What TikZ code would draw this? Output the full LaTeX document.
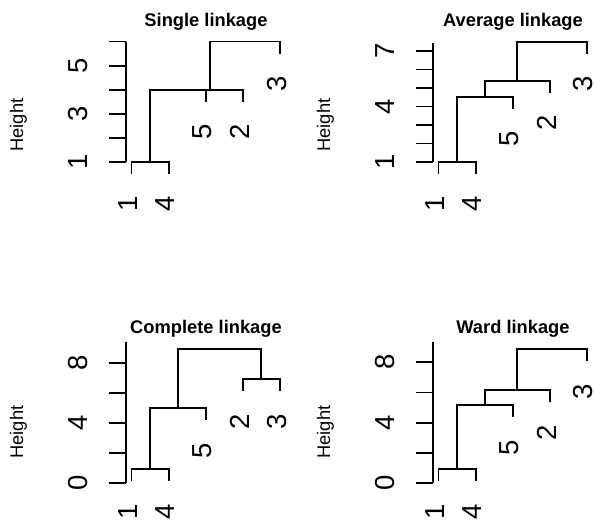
\documentclass[tikz,border=0pt]{standalone}
\usepackage{fontspec}
\setmainfont{Liberation Sans}

% one link of a dendrogram: left child (x,y), right child (x,y), height of the join
\newcommand{\dendjoin}[5]{\draw[branch] (#1,#2) |- (#3,#5) -- (#3,#4);}

\begin{document}
\begin{tikzpicture}[x=1pt, y=-1pt,
    branch/.style={line width=1.9pt},
    axisline/.style={line width=1.9pt},
    plottitle/.style={font=\bfseries\fontsize{18.3}{20}\selectfont, anchor=base, inner sep=0pt},
    heightlab/.style={font=\fontsize{18.3}{20}\selectfont, rotate=90, inner sep=0pt},
    ticklab/.style={font=\fontsize{27.5}{30}\selectfont, rotate=90, inner sep=0pt},
    leaflab/.style={font=\fontsize{27.5}{30}\selectfont, rotate=90, anchor=east, inner sep=0pt}]
\useasboundingbox (0,0) rectangle (594,522);

% --- single linkage ---
\begin{scope}
\node [plottitle] (t-single) at (206,26.5) {Single linkage};
\node [heightlab] (h-single) at (18.5,125) {Height};
\draw [axisline] (126,41.5) -- (126,162);
\foreach \y in {162,137.9,113.8,89.7,65.6,41.5}
  \draw [axisline] (108.5,\y) -- (126,\y);
\node [ticklab] (y1-single) at (78,162) {1};
\node [ticklab] (y3-single) at (78,113.8) {3};
\node [ticklab] (y5-single) at (78,65.6) {5};
\dendjoin{131.5}{174}{168.6}{174}{162}
\dendjoin{150}{162}{205.7}{101.8}{89.7}
\dendjoin{177.9}{89.7}{242.8}{101.8}{89.7}
\dendjoin{210.4}{89.7}{279.9}{53.5}{41.5}
\node [leaflab] (l1-single) at (128.2,196.5) {1};
\node [leaflab] (l4-single) at (165.3,196.5) {4};
\node [leaflab] (l5-single) at (202.4,124.3) {5};
\node [leaflab] (l2-single) at (239.5,124.3) {2};
\node [leaflab] (l3-single) at (276.6,76) {3};
\end{scope}

% --- average linkage ---
\begin{scope}[shift={(307,0)}]
\node [plottitle] (t-average) at (206,26.5) {Average linkage};
\node [heightlab] (h-average) at (18.5,125) {Height};
\draw [axisline] (126,43) -- (126,162);
\foreach \y in {162,143.5,125,106.5,88,69.5,51}
  \draw [axisline] (108.5,\y) -- (126,\y);
\node [ticklab] (y1-average) at (78,162) {1};
\node [ticklab] (y4-average) at (78,106.5) {4};
\node [ticklab] (y7-average) at (78,51) {7};
\dendjoin{131.5}{174}{168.6}{174}{162}
\dendjoin{150}{162}{205.7}{108.7}{96.7}
\dendjoin{177.9}{96.7}{242.8}{93}{81}
\dendjoin{210.4}{81}{279.9}{53.7}{41.7}
\node [leaflab] (l1-average) at (128.2,196.5) {1};
\node [leaflab] (l4-average) at (165.3,196.5) {4};
\node [leaflab] (l5-average) at (202.4,131.2) {5};
\node [leaflab] (l2-average) at (239.5,115.5) {2};
\node [leaflab] (l3-average) at (275.6,76.2) {3};
\end{scope}

% --- complete linkage ---
\begin{scope}[shift={(0,307)}]
\node [plottitle] (t-complete) at (206,26.5) {Complete linkage};
\node [heightlab] (h-complete) at (18.5,125) {Height};
\draw [axisline] (126,34.7) -- (126,176.3);
\foreach \y in {176.3,146.3,116.3,86.3,56.3}
  \draw [axisline] (108.5,\y) -- (126,\y);
\node [ticklab] (y0-complete) at (78,176.3) {0};
\node [ticklab] (y4-complete) at (78,116.3) {4};
\node [ticklab] (y8-complete) at (78,56.3) {8};
\dendjoin{131.5}{174.3}{168.6}{174.3}{162.3}
\dendjoin{150}{162.3}{205.7}{113}{101}
\dendjoin{242.8}{84}{279.9}{84}{72}
\dendjoin{177.9}{101}{261.35}{72}{42}
\node [leaflab] (l1-complete) at (128.2,196.8) {1};
\node [leaflab] (l4-complete) at (165.3,196.8) {4};
\node [leaflab] (l5-complete) at (202.4,135.5) {5};
\node [leaflab] (l2-complete) at (239.5,106.5) {2};
\node [leaflab] (l3-complete) at (276.6,106.5) {3};
\end{scope}

% --- ward linkage ---
\begin{scope}[shift={(307,307)}]
\node [plottitle] (t-ward) at (206,26.5) {Ward linkage};
\node [heightlab] (h-ward) at (18.5,125) {Height};
\draw [axisline] (126,35.3) -- (126,176.3);
\foreach \y in {176.3,146,115.8,85.5,55.3}
  \draw [axisline] (108.5,\y) -- (126,\y);
\node [ticklab] (y0-ward) at (78,176.3) {0};
\node [ticklab] (y4-ward) at (78,115.8) {4};
\node [ticklab] (y8-ward) at (78,55.3) {8};
\dendjoin{131.5}{174}{168.6}{174}{162}
\dendjoin{150}{162}{205.7}{110}{98}
\dendjoin{177.9}{98}{242.8}{95}{83}
\dendjoin{210.4}{83}{279.9}{54}{42}
\node [leaflab] (l1-ward) at (128.2,196.5) {1};
\node [leaflab] (l4-ward) at (165.3,196.5) {4};
\node [leaflab] (l5-ward) at (202.4,132.5) {5};
\node [leaflab] (l2-ward) at (239.5,117.5) {2};
\node [leaflab] (l3-ward) at (275.6,76.5) {3};
\end{scope}
\end{tikzpicture}
\end{document}
